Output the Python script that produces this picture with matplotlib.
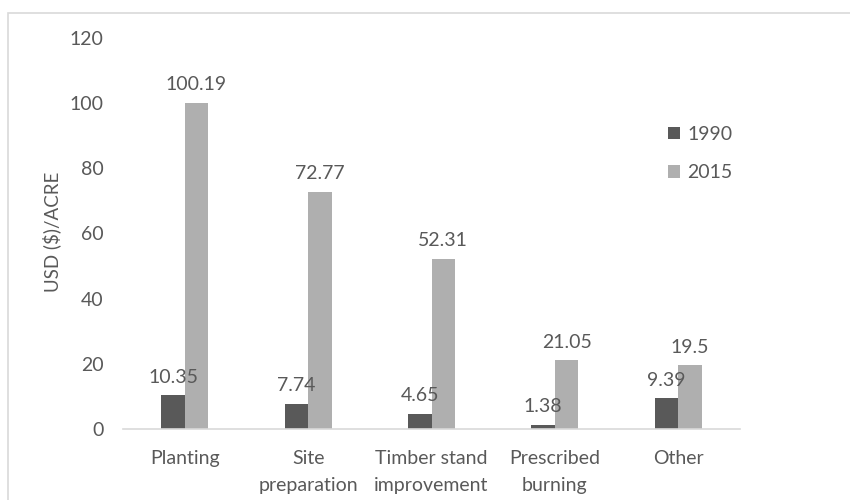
import numpy as np
import matplotlib
matplotlib.use("Agg")
import matplotlib.pyplot as plt
from matplotlib.patches import Rectangle

# data
categories = ["Planting", "Site\npreparation", "Timber stand\nimprovement", "Prescribed\nburning", "Other"]
values_1990 = [10.35, 7.74, 4.65, 1.38, 9.39]
values_2015 = [100.19, 72.77, 52.31, 21.05, 19.5]
labels_1990 = ["10.35", "7.74", "4.65", "1.38", "9.39"]
labels_2015 = ["100.19", "72.77", "52.31", "21.05", "19.5"]
yticks = [0, 20, 40, 60, 80, 100, 120]

plt.rcParams['font.family'] = ['Lato', 'DejaVu Sans']
txt = "#595959"
fs = 14

fig = plt.figure(figsize=(8.5, 5), dpi=100)
ax = fig.add_axes([0.1447, 0.142, 0.7259, 0.782])

# chart border like excel
fig.patches.append(Rectangle((8 / 850, -0.1), 1.0, 1 - 13 / 500 + 0.1,
                             transform=fig.transFigure, fill=False,
                             edgecolor="#d9d9d9", linewidth=1.2))

x = np.arange(len(categories))
w = 0.19
b1 = ax.bar(x - w / 2, values_1990, w, color="#595959", label="1990")
b2 = ax.bar(x + w / 2, values_2015, w, color="#afafaf", label="2015")

for bars, labs in ((b1, labels_1990), (b2, labels_2015)):
    for bar, lab in zip(bars, labs):
        ax.annotate(lab, (bar.get_x() + bar.get_width() / 2, bar.get_height()),
                    xytext=(0, 7), textcoords="offset points",
                    ha="center", va="bottom", fontsize=fs, color=txt)

ax.set_xlim(-0.5, len(categories) - 0.5)
ax.set_ylim(0, 120)
ax.set_yticks(yticks)
ax.set_xticks(x)
ax.set_xticklabels(categories, fontsize=fs, color=txt, linespacing=1.7)
ax.tick_params(axis="y", length=0, pad=14, labelsize=fs, labelcolor=txt)
ax.tick_params(axis="x", length=0, pad=15)
for s in ["top", "right", "left"]:
    ax.spines[s].set_visible(False)
ax.spines["bottom"].set_color("#d9d9d9")
ax.spines["bottom"].set_linewidth(1.2)

# y axis title
fig.text(52 / 850, 1 - 232 / 500, "USD ($)/ACRE", rotation=90,
         ha="center", va="center", fontsize=13.5, color=txt)

leg = ax.legend(loc="upper left", bbox_to_anchor=(0.855, 0.82), frameon=False,
                fontsize=fs, handlelength=0.6, handleheight=0.6,
                handletextpad=0.4, labelspacing=1.1, labelcolor=txt)

plt.savefig("out.png", dpi=100)
